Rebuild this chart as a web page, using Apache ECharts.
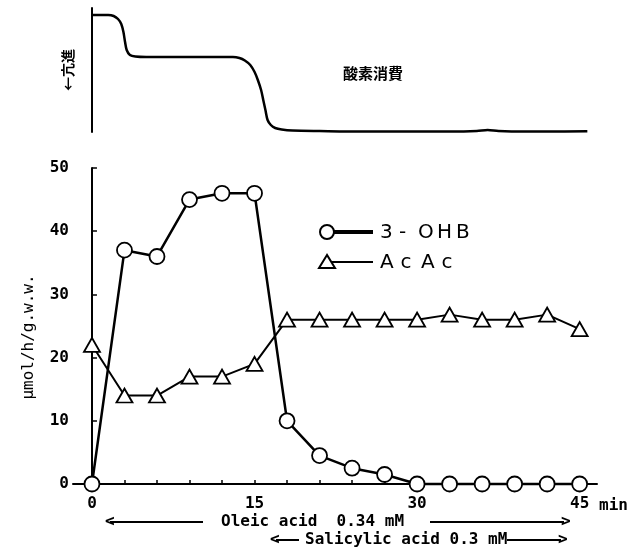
<!DOCTYPE html>
<html>
<head>
<meta charset="utf-8">
<script src="https://cdn.jsdelivr.net/npm/echarts@6/dist/echarts.min.js"></script>
<style>
  html, body { margin: 0; padding: 0; background: #fff; }
  #main { width: 633px; height: 557px; }
</style>
</head>
<body>
<div id="main"></div>
<script>
// time points (min)
var times = [0, 3, 6, 9, 12, 15, 18, 21, 24, 27, 30, 33, 36, 39, 42, 45];
// umol/h/g.w.w.
var ohb = [0, 37, 36, 45, 46, 46, 10, 4.5, 2.5, 1.5, 0, 0, 0, 0, 0, 0];
var acac = [22, 14, 14, 17, 17, 19, 26, 26, 26, 26, 26, 26.8, 26, 26, 26.8, 24.5];
var xLabels = [0, 15, 30, 45];
var yLabels = [0, 10, 20, 30, 40, 50];

// oxygen consumption trace (arbitrary units)
var traceT = [0, 1.5, 2.0, 2.4, 2.7, 2.9, 3.05, 3.2, 3.5, 4.0, 5, 8, 11, 13.0, 13.6, 14.1, 14.6, 15.0, 15.3, 15.6, 15.8, 16.0, 16.2, 16.5, 16.9, 17.5, 18.5, 21, 25, 30, 33, 35.5, 36.5, 37.5, 40, 42, 45.7];
var traceV = [117, 117, 116, 113, 108, 100, 90, 82, 77, 75.5, 75, 75, 75, 75, 74, 71.5, 67, 60, 52, 42, 32, 22, 12, 7, 4, 2.5, 1.5, 1, 0.5, 0.5, 0.5, 1, 2, 1, 0.5, 0.5, 0.8];

var monoFont = 'DejaVu Sans Mono';

function pairs(xs, ys) {
    var out = [];
    for (var i = 0; i < xs.length; i++) out.push([xs[i], ys[i]]);
    return out;
}

// legend text is drawn one letter at a time to get the wide spacing
function spacedText(str, x, y, pitch) {
    var els = [];
    for (var i = 0; i < str.length; i++) {
        els.push({
            type: 'text', x: x + i * pitch, y: y,
            style: { text: str[i], font: '20px "DejaVu Sans"', fill: '#000', align: 'left', verticalAlign: 'middle' }
        });
    }
    return els;
}

var chart = echarts.init(document.getElementById('main'), null, { renderer: 'canvas' });

var graphics = [
    { type: 'text', x: 373, y: 73, style: { text: '酸素消費', font: 'bold 15px "Noto Sans CJK JP"', fill: '#000', align: 'center', verticalAlign: 'middle' } },
    { type: 'text', x: 68, y: 70, rotation: Math.PI / 2, style: { text: '←亢進', font: 'bold 14px "Noto Sans CJK JP"', fill: '#000', align: 'center', verticalAlign: 'middle' } },
    { type: 'text', x: 29, y: 337, rotation: Math.PI / 2, style: { text: 'μmol/h/g.w.w.', font: '16px "' + monoFont + '"', fill: '#000', align: 'center', verticalAlign: 'middle' } },
    // legend
    { type: 'line', shape: { x1: 333, y1: 232, x2: 373, y2: 232 }, style: { stroke: '#000', lineWidth: 4 } },
    { type: 'circle', shape: { cx: 327, cy: 232, r: 7 }, style: { fill: '#fff', stroke: '#000', lineWidth: 2 } },
    { type: 'line', shape: { x1: 330, y1: 262, x2: 373, y2: 262 }, style: { stroke: '#000', lineWidth: 2 } },
    { type: 'polygon', shape: { points: [[327, 255], [319, 268], [335, 268]] }, style: { fill: '#fff', stroke: '#000', lineWidth: 2 } },
    // treatment periods
    { type: 'text', x: 105, y: 522, style: { text: '<', font: 'bold 16px "' + monoFont + '"', fill: '#000', verticalAlign: 'middle' } },
    { type: 'line', shape: { x1: 110, y1: 522, x2: 203, y2: 522 }, style: { stroke: '#000', lineWidth: 2 } },
    { type: 'text', x: 221, y: 522, style: { text: 'Oleic acid  0.34 mM', font: 'bold 16px "' + monoFont + '"', fill: '#000', verticalAlign: 'middle' } },
    { type: 'line', shape: { x1: 430, y1: 522, x2: 564, y2: 522 }, style: { stroke: '#000', lineWidth: 2 } },
    { type: 'text', x: 561, y: 522, style: { text: '>', font: 'bold 16px "' + monoFont + '"', fill: '#000', verticalAlign: 'middle' } },
    { type: 'text', x: 270, y: 540, style: { text: '<', font: 'bold 16px "' + monoFont + '"', fill: '#000', verticalAlign: 'middle' } },
    { type: 'line', shape: { x1: 276, y1: 540, x2: 299, y2: 540 }, style: { stroke: '#000', lineWidth: 2 } },
    { type: 'text', x: 305, y: 540, style: { text: 'Salicylic acid 0.3 mM', font: 'bold 16px "' + monoFont + '"', fill: '#000', verticalAlign: 'middle' } },
    { type: 'line', shape: { x1: 507, y1: 540, x2: 561, y2: 540 }, style: { stroke: '#000', lineWidth: 2 } },
    { type: 'text', x: 558, y: 540, style: { text: '>', font: 'bold 16px "' + monoFont + '"', fill: '#000', verticalAlign: 'middle' } }
];
graphics = graphics.concat(spacedText('3-OHB', 380, 233, 19));
graphics = graphics.concat(spacedText('AcAc', 380, 263, 20.5));

var tickVals = [];
for (var t = 0; t <= 45; t += 3) tickVals.push(t);

var option = {
    animation: false,
    backgroundColor: '#fff',
    graphic: graphics,
    grid: [
        { left: 73, top: 168, right: 36, bottom: 73 },
        { left: 83, top: 8, width: 505, height: 124 }
    ],
    xAxis: [{
        type: 'value', gridIndex: 0, min: -1.75, max: 46.6,
        name: 'min', nameLocation: 'end', nameGap: 2,
        nameTextStyle: { color: '#000', fontFamily: monoFont, fontSize: 16, fontWeight: 'bold', verticalAlign: 'top', padding: [14, 0, 0, 0] },
        axisLine: { lineStyle: { color: '#000', width: 2 } },
        axisTick: { inside: true, length: 4, customValues: tickVals, lineStyle: { color: '#000', width: 1.5 } },
        axisLabel: { customValues: xLabels, color: '#000', fontFamily: monoFont, fontSize: 16, fontWeight: 'bold', margin: 12 },
        splitLine: { show: false }
    }, {
        type: 'value', gridIndex: 1, min: -0.83, max: 45.76, show: false
    }],
    yAxis: [{
        type: 'value', gridIndex: 0, min: 0, max: 50, interval: 10,
        axisLine: { show: true, lineStyle: { color: '#000', width: 2 } },
        axisTick: { show: true, inside: true, length: 5, lineStyle: { color: '#000', width: 1.5 } },
        axisLabel: { customValues: yLabels, color: '#000', fontFamily: monoFont, fontSize: 16, fontWeight: 'bold', margin: 4 },
        splitLine: { show: false }
    }, {
        type: 'value', gridIndex: 1, min: 0, max: 124,
        axisLine: { show: true, lineStyle: { color: '#000', width: 2 } },
        axisTick: { show: false }, axisLabel: { show: false }, splitLine: { show: false }
    }],
    series: [{
        name: 'O2', type: 'line', xAxisIndex: 1, yAxisIndex: 1,
        data: pairs(traceT, traceV), smooth: 0.3, showSymbol: false,
        lineStyle: { color: '#000', width: 2.5 }
    }, {
        name: 'AcAc', type: 'line', data: pairs(times, acac),
        symbol: 'triangle', symbolSize: [16, 14],
        itemStyle: { color: '#fff', borderColor: '#000', borderWidth: 1.8 },
        lineStyle: { color: '#000', width: 2 }, clip: false
    }, {
        name: '3-OHB', type: 'line', data: pairs(times, ohb),
        symbol: 'circle', symbolSize: 15,
        itemStyle: { color: '#fff', borderColor: '#000', borderWidth: 1.8 },
        lineStyle: { color: '#000', width: 2.5 }, clip: false
    }]
};
chart.setOption(option);
</script>
</body>
</html>
